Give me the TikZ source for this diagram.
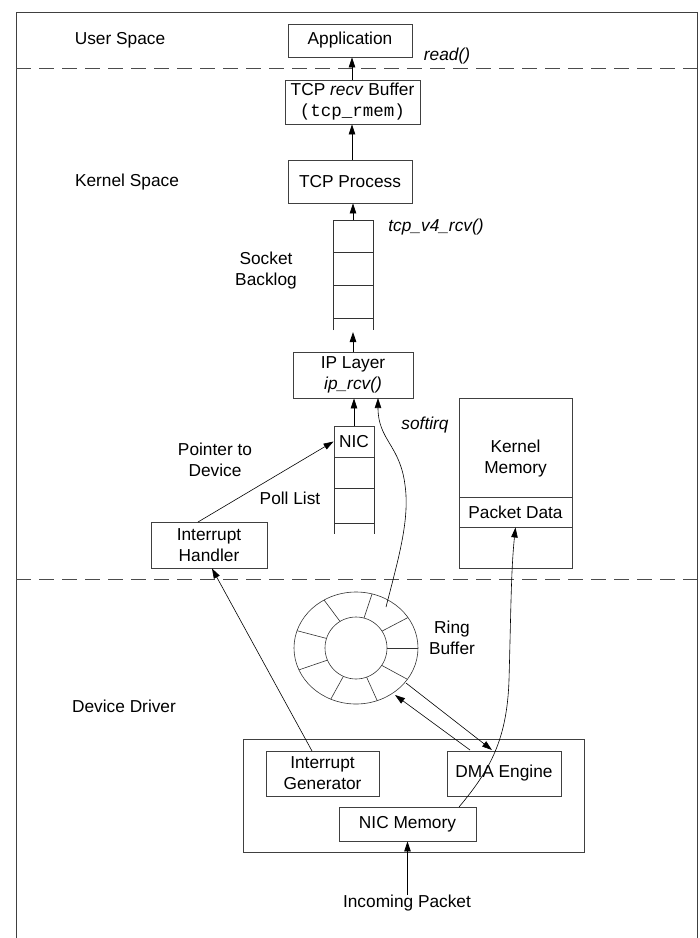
\documentclass[tikz,border=0pt]{standalone}
\usepackage{fontspec}
\setmainfont{Liberation Sans}
\setmonofont{Liberation Mono}
\usetikzlibrary{arrows.meta,calc}
\begin{document}
\begin{tikzpicture}[x=1pt,y=-1pt,
  font=\fontsize{17.3}{21}\selectfont,
  box/.style={draw=black!75, line width=0.9pt, inner sep=0pt, align=center},
  lbl/.style={inner sep=0pt, align=center},
  arr/.style={-{Triangle[length=10pt,width=6.5pt]}, line width=0.8pt},
  wire/.style={line width=0.6pt, draw=black!80},
  sep/.style={dash pattern=on 15pt off 8pt, line width=0.9pt, draw=black!70},
  frame/.style={line width=0.9pt, draw=black!75}]

\useasboundingbox (0,0) rectangle (700,938);

% outer frame and separators
\draw[frame] (16,938) -- (16,12) -- (697,12) -- (697,938);
\draw[sep] (16,68) -- (697,68);
\draw[sep] (16,579) -- (697,579);

% region labels
\node[lbl] (us) at (120,40) {User Space};
\node[lbl] (ks) at (127,182) {Kernel Space};
\node[lbl] (dd) at (124,706) {Device Driver};

% boxes
\node[box, minimum width=124, minimum height=33] (app) at (350,40.5) {Application};
\node[box, minimum width=135, minimum height=44] (recv) at (352.5,102) {TCP \textit{recv} Buffer\\[0pt]{\fontsize{17.5}{21}\ttfamily(tcp\_rmem)}};
\node[box, minimum width=124, minimum height=43] (tcp) at (350,181.5) {TCP Process};
\node[box, minimum width=120, minimum height=46] (ip) at (353,375) {IP Layer\\\textit{ip\_rcv()}};
\node[box, minimum width=116, minimum height=46] (ih) at (209,545) {Interrupt\\Handler};

% kernel memory
\node[box, minimum width=113, minimum height=170] (km) at (515.5,483) {};
\node[lbl] (kmt) at (515.5,459) {Kernel\\Memory};
\node[box, minimum width=113, minimum height=30] (pd) at (515.5,512) {Packet Data};

% socket backlog queue
\coordinate (qtop) at (353,220);
\coordinate (qbot) at (353,332);
\draw[wire] (333,330) -- (333,220) -- (373,220) -- (373,330);
\draw[wire] (333,252) -- (373,252);
\draw[wire] (333,285) -- (373,285);
\draw[wire] (333,318) -- (373,318);

% poll list
\node[box, minimum width=40, minimum height=31] (nic) at (354,441.5) {NIC};
\draw[wire] (334,457) -- (334,534);
\draw[wire] (374,457) -- (374,534);
\draw[wire] (334,488) -- (374,488);
\draw[wire] (334,523) -- (374,523);

% labels
\node[lbl] (rd) at (447,56) {\textit{read()}};
\node[lbl] (v4) at (436,227) {\textit{tcp\_v4\_rcv()}};
\node[lbl] (sb) at (266,271) {Socket\\Backlog};
\node[lbl] (sq) at (425,425) {\textit{softirq}};
\node[lbl] (ptd) at (215,460) {Pointer to\\Device};
\node[lbl] (pl) at (290,498) {Poll List};
\node[lbl] (rb) at (452,638) {Ring\\Buffer};

% ring buffer
\coordinate (ring) at (356,648);
\draw[wire] (ring) ellipse [x radius=62, y radius=56];
\draw[wire] (ring) circle (31);
\foreach \a in {121,75,33,0,-34,-70,-114,-157,162}{
  \draw[wire] ($(ring)+({31*cos(\a)},{-31*sin(\a)})$) -- ($(ring)+({62*cos(\a)},{-56*sin(\a)})$);
}

% NIC hardware
\node[box, minimum width=341, minimum height=113] (hw) at (413.5,795.5) {};
\node[box, minimum width=113, minimum height=45] (ig) at (322.5,773.5) {Interrupt\\Generator};
\node[box, minimum width=114, minimum height=45] (dma) at (504,773.5) {DMA Engine};
\node[box, minimum width=137, minimum height=34] (nm) at (407.5,824) {NIC Memory};
\node[lbl] (inc) at (407,903) {Incoming Packet};

% arrows in the stack
\draw[arr] (recv.north -| 352,0) -- (app.south -| 352,0);
\draw[arr] (tcp.north -| 352,0) -- (recv.south -| 352,0);
\draw[arr] (qtop) -- (tcp.south -| qtop);
\draw[arr] (ip.north -| qbot) -- (qbot);
\draw[arr] (nic.north) -- (nic.north |- ip.south);

% interrupt handler to poll list
\coordinate (ihn) at (198,522);
\draw[arr, line width=0.6pt] (ihn) -- (nic.west);

% softirq curve
\coordinate (sqs) at (386,607);
\coordinate (ipb) at (378,398);
\draw[arr, line width=0.6pt] (sqs) .. controls (398,560) and (410,520) .. (405,485)
   .. controls (400,445) and (378,440) .. (ipb);

% DMA to packet data
\coordinate (nmt) at (459,807);
\draw[arr, line width=0.6pt] (nmt) .. controls (490,770) and (507,740) .. (509,680)
   .. controls (511,610) and (511,570) .. (pd.south);

% ring <-> DMA
\coordinate (ra) at (395,695);
\coordinate (da) at (470,750);
\coordinate (rb1) at (406,683);
\coordinate (db) at (492,750);
\draw[arr, line width=0.6pt] (da) -- (ra);
\draw[arr, line width=0.6pt] (rb1) -- (db);

% interrupt generator to handler
\coordinate (igt) at (312,751);
\draw[arr, line width=0.6pt] (igt) -- (ih.south -| 212,0);

% incoming packet
\draw[arr] (inc.north -| nm.south) -- (nm.south);
\end{tikzpicture}
\end{document}
